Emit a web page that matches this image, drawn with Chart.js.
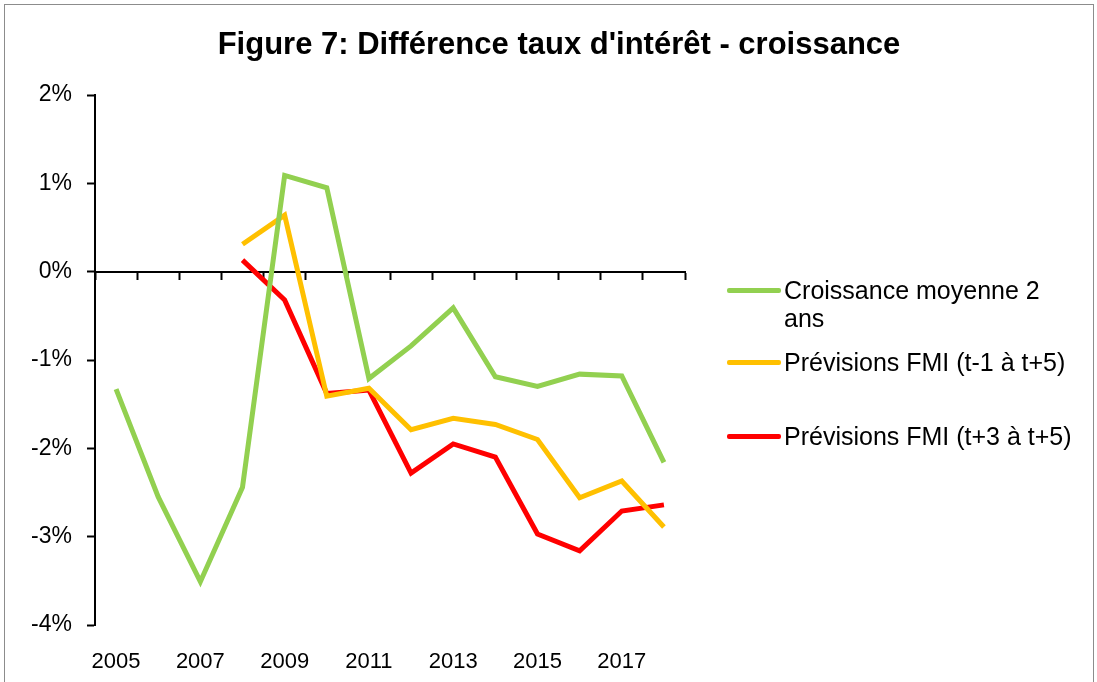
<!DOCTYPE html>
<html lang="fr">
<head>
<meta charset="utf-8">
<title>Figure 7</title>
<script src="https://cdn.jsdelivr.net/npm/chart.js@4.4.1/dist/chart.umd.min.js"></script>
<style>
    html, body {
        margin: 0;
        padding: 0;
        background: #ffffff;
        font-family: "Liberation Sans", Arial, sans-serif;
    }
    #frame {
        position: absolute;
        left: 4px;
        top: 4px;
        width: 1090px;
        height: 690px;
        border: 1px solid #8c8c8c;
        box-sizing: border-box;
    }
    #wrap {
        position: absolute;
        left: 0;
        top: 0;
        width: 1097px;
        height: 682px;
    }
    #title {
        position: absolute;
        left: 0;
        top: 26px;
        width: 1118px;
        text-align: center;
        font-size: 31px;
        line-height: 36px;
        font-weight: bold;
        color: #000;
    }
    #legend {
        position: absolute;
        left: 727px;
        top: 276px;
        font-size: 25px;
        line-height: 28px;
        color: #000;
    }
    .legend-item {
        display: flex;
        align-items: flex-start;
    }
    .legend-item:nth-child(2) { margin-top: 16px; }
    .legend-item:nth-child(3) { margin-top: 46px; }
    .legend-swatch {
        width: 54px;
        height: 5px;
        border-radius: 2px;
        margin-top: 12px;
        margin-right: 3px;
        flex: none;
    }
    .legend-text {
        max-width: 295px;
    }
</style>
</head>
<body>
<div id="wrap">
    <canvas id="rateChart" width="1097" height="682"></canvas>
</div>
<div id="frame"></div>
<div id="title">Figure 7: Différence taux d'intérêt - croissance</div>
<div id="legend"></div>

<script>
/**
 * Figure 7 - interest rate minus growth differential
 */

const years = ['2005', '2006', '2007', '2008', '2009', '2010', '2011', '2012', '2013', '2014', '2015', '2016', '2017', '2018'];

// values in percent
const croissanceMoyenne = [-1.33, -2.55, -3.51, -2.44, 1.09, 0.95, -1.21, -0.84, -0.41, -1.19, -1.30, -1.16, -1.18, -2.16];
const previsionsT1 = [null, null, null, 0.31, 0.64, -1.41, -1.32, -1.79, -1.66, -1.73, -1.90, -2.56, -2.37, -2.89];
const previsionsT3 = [null, null, null, 0.13, -0.32, -1.38, -1.34, -2.28, -1.95, -2.10, -2.97, -3.16, -2.71, -2.64];

const seriesLabels = ['Croissance moyenne 2 ans', 'Prévisions FMI (t-1 à t+5)', 'Prévisions FMI (t+3 à t+5)'];
const seriesColors = ['#92D050', '#FFC000', '#FF0000'];

const FONT = '"Liberation Sans", Arial, sans-serif';

/**
 * Build HTML legend from datasets
 */
const htmlLegend = {
    id: 'htmlLegend',
    afterUpdate(chart) {
        const box = document.getElementById('legend');
        box.innerHTML = '';
        chart.data.datasets.forEach(ds => {
            const item = document.createElement('div');
            item.className = 'legend-item';
            const swatch = document.createElement('div');
            swatch.className = 'legend-swatch';
            swatch.style.background = ds.borderColor;
            const text = document.createElement('div');
            text.className = 'legend-text';
            text.textContent = ds.label;
            item.appendChild(swatch);
            item.appendChild(text);
            box.appendChild(item);
        });
    }
};

function makeDataset(i, data) {
    return {
        label: seriesLabels[i],
        data: data,
        borderColor: seriesColors[i],
        backgroundColor: seriesColors[i],
        borderWidth: 5,
        pointRadius: 0,
        tension: 0,
        spanGaps: false,
        xAxisID: 'x'
    };
}

const ctx = document.getElementById('rateChart');
new Chart(ctx, {
    type: 'line',
    data: {
        labels: years,
        datasets: [
            makeDataset(0, croissanceMoyenne),
            makeDataset(1, previsionsT1),
            makeDataset(2, previsionsT3)
        ]
    },
    options: {
        responsive: false,
        animation: false,
        layout: {
            padding: { left: 8, right: 412, top: 95, bottom: 0 }
        },
        plugins: {
            legend: { display: false },
            tooltip: { enabled: false },
            title: { display: false }
        },
        scales: {
            x: {
                type: 'category',
                position: { y: 0 },
                offset: true,
                grid: {
                    offset: true,
                    drawOnChartArea: false,
                    drawTicks: true,
                    tickLength: 7,
                    tickWidth: 2,
                    color: '#000'
                },
                border: { display: true, color: '#000', width: 2 },
                ticks: { display: false }
            },
            x2: {
                type: 'category',
                position: 'bottom',
                labels: years,
                offset: true,
                grid: { display: false },
                border: { display: false },
                afterFit: scale => { scale.height = 57; },
                ticks: {
                    autoSkip: false,
                    maxRotation: 0,
                    color: '#000',
                    padding: 16,
                    font: { family: FONT, size: 22 },
                    callback: function (value, index) {
                        return index % 2 === 0 ? this.getLabelForValue(value) : '';
                    }
                }
            },
            y: {
                min: -4,
                max: 2,
                afterFit: scale => { scale.width = 87; },
                grid: {
                    drawOnChartArea: false,
                    drawTicks: true,
                    tickLength: 8,
                    tickWidth: 2,
                    color: '#000'
                },
                border: { display: true, color: '#000', width: 2 },
                ticks: {
                    stepSize: 1,
                    color: '#000',
                    padding: 15,
                    font: { family: FONT, size: 23 },
                    callback: v => v + '%'
                }
            }
        }
    },
    plugins: [htmlLegend]
});
</script>
</body>
</html>
